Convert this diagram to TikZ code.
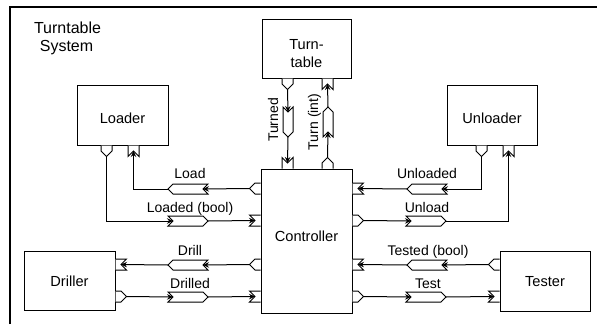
\documentclass[tikz,border=0pt]{standalone}
\usepackage{fontspec}
\setmainfont{Liberation Sans}
\usetikzlibrary{calc,arrows.meta}
\tikzset{
  block/.style={draw, line width=1pt, rectangle, inner sep=0pt, anchor=center},
  boxtext/.style={font=\fontsize{14.6}{17}\selectfont, inner sep=0pt, anchor=base},
  titletext/.style={font=\fontsize{16}{19}\selectfont, inner sep=0pt, anchor=base},
  flowtext/.style={font=\fontsize{14}{16}\selectfont, inner sep=0pt, anchor=base},
  conn/.style={line width=1pt, -{Stealth[length=6,width=5.5,inset=2]}},
  outport/.pic={\draw[line width=1pt, fill=white] (0,-5.5)--(5.5,-5.5)--(11,0)--(5.5,5.5)--(0,5.5); \coordinate (-t) at (11,0);},
  inport/.pic={\draw[line width=1pt, fill=white] (0,-5.5)--(11,-5.5)--(5.5,0)--(11,5.5)--(0,5.5); \coordinate (-t) at (5.5,0);},
  iflow/.pic={\draw[line width=1pt, fill=white] (0,-5)--({#1-5},-5)--(#1,0)--({#1-5},5)--(0,5)--(5,0)--cycle; \coordinate (-n) at (5,0); \coordinate (-t) at (#1,0);}
}
\begin{document}
\begin{tikzpicture}[x=1pt,y=-1pt]
\useasboundingbox (0,0) rectangle (597,324);
% frame
\draw[line width=1.3pt] (10,324) -- (10,7) -- (597,7);
\node[titletext] (title1) at (67.5,33) {Turntable};
\node[titletext] (title2) at (66.5,51) {System};

% blocks
\node[block, minimum width=89, minimum height=59] (tt) at (306.5,48.5) {};
\node[block, minimum width=91, minimum height=60] (loader) at (122.5,115) {};
\node[block, minimum width=90, minimum height=60] (unloader) at (492,115) {};
\node[block, minimum width=91, minimum height=144] (ctrl) at (306.5,241) {};
\node[block, minimum width=91, minimum height=59] (driller) at (69.5,280.5) {};
\node[block, minimum width=90, minimum height=60] (tester) at (545,281) {};

\node[boxtext] (ttl1) at (306.5,49) {Turn-};
\node[boxtext] (ttl2) at (306.5,67) {table};
\node[boxtext] (loaderl) at (122.5,123) {Loader};
\node[boxtext] (unloaderl) at (492,123) {Unloader};
\node[boxtext] (ctrll) at (306.5,241) {Controller};
\node[boxtext] (drillerl) at (69.5,286) {Driller};
\node[boxtext] (testerl) at (545,286) {Tester};

% ports
\pic[rotate=-90] (pT1) at ($(tt.south west)+(26,0)$) {outport};
\pic[rotate=-90] (pT2) at ($(tt.south west)+(66,0)$) {inport};
\pic[rotate=90] (pC1) at ($(ctrl.north west)+(27,0)$) {inport};
\pic[rotate=90] (pC2) at ($(ctrl.north west)+(67,0)$) {outport};
\pic[rotate=-90] (pL1) at ($(loader.south west)+(30,0)$) {outport};
\pic[rotate=-90] (pL2) at ($(loader.south west)+(57,0)$) {inport};
\pic[rotate=-90] (pU1) at ($(unloader.south west)+(35,0)$) {outport};
\pic[rotate=-90] (pU2) at ($(unloader.south west)+(62,0)$) {inport};
\pic[rotate=180] (pCL1) at ($(ctrl.north west)+(0,20)$) {outport};
\pic[rotate=180] (pCL2) at ($(ctrl.north west)+(0,52)$) {inport};
\pic[rotate=180] (pCL3) at ($(ctrl.north west)+(0,96)$) {outport};
\pic[rotate=180] (pCL4) at ($(ctrl.north west)+(0,128)$) {inport};
\pic (pCR1) at ($(ctrl.north east)+(0,20)$) {inport};
\pic (pCR2) at ($(ctrl.north east)+(0,52)$) {outport};
\pic (pCR3) at ($(ctrl.north east)+(0,96)$) {inport};
\pic (pCR4) at ($(ctrl.north east)+(0,128)$) {outport};
\pic (pD1) at ($(driller.north east)+(0,14)$) {inport};
\pic (pD2) at ($(driller.north east)+(0,46)$) {outport};
\pic[rotate=180] (pE1) at ($(tester.north west)+(0,14)$) {outport};
\pic[rotate=180] (pE2) at ($(tester.north west)+(0,46)$) {inport};

% item flows
\pic[rotate=-90] (fTurned) at (288,107) {iflow=30};
\pic[rotate=90] (fTurn) at (328,137) {iflow=30};
\pic[rotate=180] (fLoad) at (208,189) {iflow=40};
\pic (fLoaded) at (168,221) {iflow=40};
\pic[rotate=180] (fDrill) at (208,265) {iflow=40};
\pic (fDrilled) at (168,297) {iflow=40};
\pic[rotate=180] (fUnloaded) at (447,189) {iflow=40};
\pic (fUnload) at (406,221) {iflow=40};
\pic[rotate=180] (fTested) at (447,265) {iflow=40};
\pic (fTest) at (406,297) {iflow=40};

% connectors
\draw[conn] (pT1-t) -- (fTurned-n);
\draw[conn] (fTurned-t) -- (pC1-t);
\draw[conn] (pC2-t) -- (fTurn-n);
\draw[conn] (fTurn-t) -- (pT2-t);
\draw[conn] (pCL1-t) -- (fLoad-n);
\draw[conn] (fLoad-t) -| (pL2-t);
\draw[conn] (pL1-t) |- (fLoaded-n);
\draw[conn] (fLoaded-t) -- (pCL2-t);
\draw[conn] (pCL3-t) -- (fDrill-n);
\draw[conn] (fDrill-t) -- (pD1-t);
\draw[conn] (pD2-t) -- (fDrilled-n);
\draw[conn] (fDrilled-t) -- (pCL4-t);
\draw[conn] (pU1-t) |- (fUnloaded-n);
\draw[conn] (fUnloaded-t) -- (pCR1-t);
\draw[conn] (pCR2-t) -- (fUnload-n);
\draw[conn] (fUnload-t) -| (pU2-t);
\draw[conn] (pE1-t) -- (fTested-n);
\draw[conn] (fTested-t) -- (pCR3-t);
\draw[conn] (pCR4-t) -- (fTest-n);
\draw[conn] (fTest-t) -- (pE2-t);

% flow labels
\node[flowtext, rotate=90] (lTurned) at (278,120) {Turned};
\node[flowtext, rotate=90] (lTurn) at (318,122) {Turn (int)};
\node[flowtext] (lLoad) at (190,178) {Load};
\node[flowtext] (lLoaded) at (190,212) {Loaded (bool)};
\node[flowtext] (lDrill) at (190,255) {Drill};
\node[flowtext] (lDrilled) at (190,288) {Drilled};
\node[flowtext] (lUnloaded) at (427,178) {Unloaded};
\node[flowtext] (lUnload) at (427,212) {Unload};
\node[flowtext] (lTested) at (428,255) {Tested (bool)};
\node[flowtext] (lTest) at (428,288) {Test};
\end{tikzpicture}
\end{document}
